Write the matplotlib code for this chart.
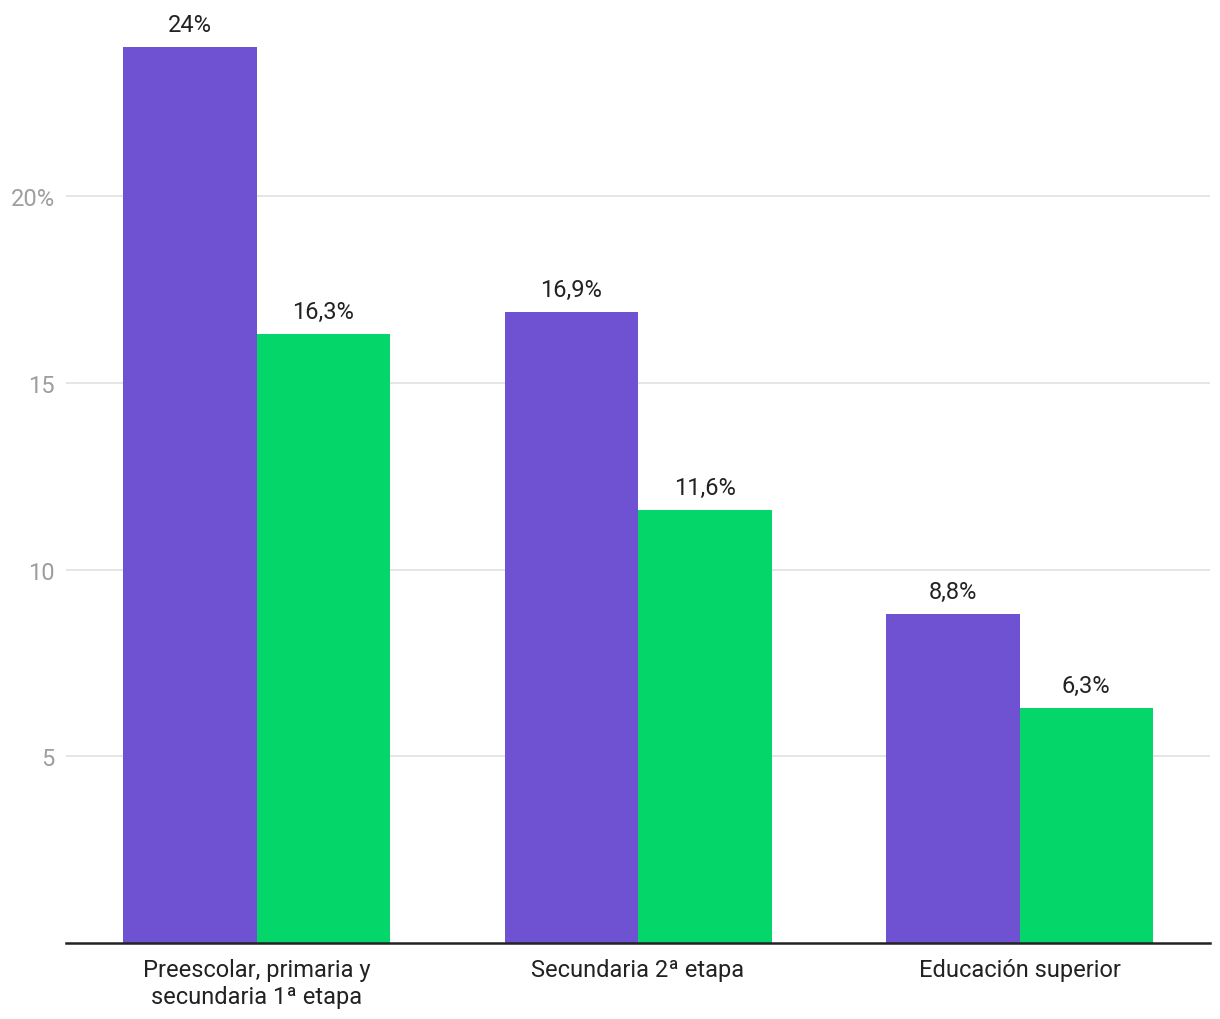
import numpy as np
import matplotlib
matplotlib.use("Agg")
from matplotlib import pyplot as plt

plt.rcParams['font.family'] = ['Roboto', 'DejaVu Sans']

# datos
categorias = ["Preescolar, primaria y\nsecundaria 1ª etapa", "Secundaria 2ª etapa", "Educación superior"]
serie_a = [24.0, 16.9, 8.8]
serie_b = [16.3, 11.6, 6.3]
etiquetas_a = ["24%", "16,9%", "8,8%"]
etiquetas_b = ["16,3%", "11,6%", "6,3%"]
yticks = [5, 10, 15, 20]
ytick_labels = ["5", "10", "15", "20%"]

morado = "#6f52d1"
verde = "#05d66a"

fig = plt.figure(figsize=(12.2, 10.2), dpi=100)
ax = fig.add_axes([0.054, 0.0745, 0.938, 0.8785])

x = np.arange(len(categorias))
ancho = 0.35
barras_a = ax.bar(x - ancho / 2, serie_a, ancho, color=morado, zorder=2)
barras_b = ax.bar(x + ancho / 2, serie_b, ancho, color=verde, zorder=2)

# etiquetas de valor
for barras, etiquetas in ((barras_a, etiquetas_a), (barras_b, etiquetas_b)):
    for b, txt in zip(barras, etiquetas):
        ax.annotate(txt, (b.get_x() + b.get_width() / 2, b.get_height()),
                    xytext=(0, 8), textcoords="offset points",
                    ha="center", va="bottom", fontsize=17, color="#222222",
                    annotation_clip=False)

ax.set_xlim(-0.5, 2.5)
ax.set_ylim(0, 24)
ax.set_yticks(yticks)
ax.set_yticklabels(ytick_labels, color="#9e9e9e", fontsize=17)
ax.set_xticks(x)
ax.set_xticklabels(categorias, fontsize=17, color="#222222", linespacing=1.2)
ax.tick_params(axis="both", length=0)
ax.tick_params(axis="y", pad=8)
ax.tick_params(axis="x", pad=11)

ax.grid(axis="y", color="#e0e0e0", linewidth=1.2, zorder=0)
for s in ["top", "right", "left"]:
    ax.spines[s].set_visible(False)
ax.spines["bottom"].set_color("#222222")
ax.spines["bottom"].set_linewidth(1.8)
ax.spines["bottom"].set_zorder(3)

fig.savefig("out.png", dpi=100, facecolor="white")
